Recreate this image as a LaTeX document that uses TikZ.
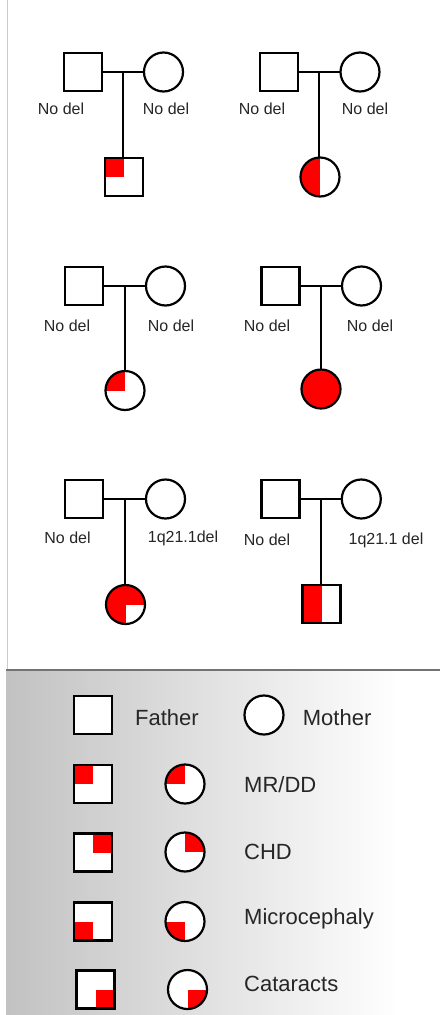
\documentclass[tikz,border=0pt]{standalone}
\usepackage{fontspec}
\setmainfont{Liberation Sans}
\usetikzlibrary{calc}
\begin{document}
\begin{tikzpicture}[x=1pt,y=-1pt,
 sq/.style={draw=black, line width=2.2pt, fill=white, minimum size=38pt, inner sep=0pt, outer sep=0pt},
 ci/.style={circle, draw=black, line width=2.2pt, fill=white, minimum size=39pt, inner sep=0pt, outer sep=0pt},
 link/.style={line width=2pt, draw=black},
 lab/.style={font=\fontsize{16}{19}\selectfont, text=black!85, inner sep=0pt},
 leg/.style={font=\fontsize{22}{26}\selectfont, text=black!85, inner sep=0pt, anchor=west},
 tl/.style={path picture={\fill[red] (path picture bounding box.north west) rectangle (path picture bounding box.center);}},
 tr/.style={path picture={\fill[red] (path picture bounding box.north east) rectangle (path picture bounding box.center);}},
 bl/.style={path picture={\fill[red] (path picture bounding box.south west) rectangle (path picture bounding box.center);}},
 br/.style={path picture={\fill[red] (path picture bounding box.south east) rectangle (path picture bounding box.center);}},
 lhalf/.style={path picture={\fill[red] (path picture bounding box.north west) rectangle (path picture bounding box.south);}},
 allred/.style={fill=red},
 threeq/.style={fill=red, path picture={\fill[white] (path picture bounding box.south east) rectangle (path picture bounding box.center);}}
]
\useasboundingbox (0,0) rectangle (440,1015);
\fill[white] (0,0) rectangle (440,1015);
% frame and legend background
\draw[black!20, line width=1pt] (7,0) -- (7,670);
\shade[left color=black!24, right color=white] (6,670) rectangle (400,1015);
\fill[white] (400,670) rectangle (440,1015);
\draw[black!55, line width=1.5pt] (6,670) -- (440,670);

% Pedigree 1
\node[sq] (f1) at (83,72) {};
\node[ci] (m1) at (163.5,72) {};
\coordinate (j1) at ($(f1.east)!0.5!(m1.west)$);
\node[sq, tl] (c1) at (124,177) {};
\draw[link] (f1.east) -- (m1.west);
\draw[link] (j1) -- (j1 |- c1.north);
\node[lab] (lf1) at (61,109) {No del};
\node[lab] (lm1) at (166,109) {No del};

% Pedigree 2
\node[sq] (f2) at (279,72) {};
\node[ci] (m2) at (360,72) {};
\coordinate (j2) at ($(f2.east)!0.5!(m2.west)$);
\node[ci, lhalf] (c2) at (320,177) {};
\draw[link] (f2.east) -- (m2.west);
\draw[link] (j2) -- (j2 |- c2.north);
\node[lab] (lf2) at (262,109) {No del};
\node[lab] (lm2) at (365,109) {No del};

% Pedigree 3
\node[sq] (f3) at (84,286) {};
\node[ci] (m3) at (165.5,286) {};
\coordinate (j3) at ($(f3.east)!0.5!(m3.west)$);
\node[ci, tl] (c3) at (125,390.5) {};
\draw[link] (f3.east) -- (m3.west);
\draw[link] (j3) -- (j3 |- c3.north);
\node[lab] (lf3) at (67,326) {No del};
\node[lab] (lm3) at (171,326) {No del};

% Pedigree 4
\node[sq] (f4) at (280.5,286) {};
\node[ci] (m4) at (361.5,286) {};
\coordinate (j4) at ($(f4.east)!0.5!(m4.west)$);
\node[ci, allred] (c4) at (321,389) {};
\draw[link] (f4.east) -- (m4.west);
\draw[link] (j4) -- (j4 |- c4.north);
\node[lab] (lf4) at (267,326) {No del};
\node[lab] (lm4) at (370,326) {No del};

% Pedigree 5
\node[sq] (f5) at (84,499) {};
\node[ci] (m5) at (165.5,499) {};
\coordinate (j5) at ($(f5.east)!0.5!(m5.west)$);
\node[ci, threeq] (c5) at (125.5,604.5) {};
\draw[link] (f5.east) -- (m5.west);
\draw[link] (j5) -- (j5 |- c5.north);
\node[lab] (lf5) at (67.5,538) {No del};
\node[lab] (lm5) at (183,538) {1q21.1del};

% Pedigree 6
\node[sq] (f6) at (280.5,499) {};
\node[ci] (m6) at (361.3,499) {};
\coordinate (j6) at ($(f6.east)!0.5!(m6.west)$);
\node[sq, lhalf] (c6) at (321.5,604) {};
\draw[link] (f6.east) -- (m6.west);
\draw[link] (j6) -- (j6 |- c6.north);
\node[lab] (lf6) at (267,540) {No del};
\node[lab] (lm6) at (386,540) {1q21.1 del};

% Legend
\node[sq] (kf) at (93,715) {};
\node[leg] (tf) at (135,718) {Father};
\node[ci] (km) at (264,715) {};
\node[leg] (tm) at (302.7,718) {Mother};

\node[sq, tl] (ks1) at (93,784) {};
\node[ci, tl] (kc1) at (185,784) {};
\node[leg] (t1) at (244,785) {MR/DD};

\node[sq, tr] (ks2) at (93,852.5) {};
\node[ci, tr] (kc2) at (185,852) {};
\node[leg] (t2) at (244,852) {CHD};

\node[sq, bl] (ks3) at (93,921.5) {};
\node[ci, bl] (kc3) at (185,921.5) {};
\node[leg] (t3) at (244,919) {Microcephaly};

\node[sq, br] (ks4) at (95.5,989.5) {};
\node[ci, br] (kc4) at (187.5,989.5) {};
\node[leg] (t4) at (244,983.5) {Cataracts};
\end{tikzpicture}
\end{document}
